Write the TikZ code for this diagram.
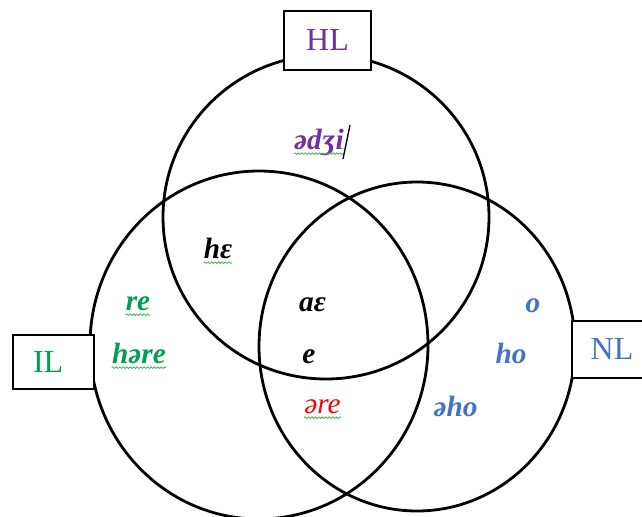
\documentclass[tikz,border=0pt]{standalone}
\usepackage{fontspec}
\setmainfont{Liberation Serif}
\usetikzlibrary{decorations.pathmorphing}
\definecolor{hlpurple}{HTML}{7030A0}
\definecolor{ilgreen}{HTML}{00A04E}
\definecolor{nlblue}{HTML}{4472C4}
\definecolor{squiggreen}{HTML}{4CAF50}
\definecolor{wordred}{HTML}{FF0000}
\begin{document}
\begin{tikzpicture}[x=0.75pt,y=-0.75pt,
  ring/.style={draw=black,line width=2.1pt},
  labelbox/.style={draw=black,line width=1.5pt,fill=white,inner sep=0pt,
    font=\fontsize{24}{28}\selectfont},
  word/.style={font=\fontsize{22}{26}\selectfont\bfseries\itshape,inner sep=0pt,anchor=base},
  squig/.style={draw=squiggreen,line width=0.6pt,decorate,
    decoration={snake,amplitude=0.6pt,segment length=2.6pt}}]
\useasboundingbox (0,0) rectangle (642,517);
\clip (0,0) rectangle (642,517);
% circles
\draw[ring] (326,217) ellipse [x radius=163, y radius=162];
\draw[ring] (259,345) ellipse [x radius=169, y radius=174];
\draw[ring] (417,346.5) ellipse [x radius=158, y radius=164.5];
% label boxes
\node[labelbox,text=hlpurple,minimum width=65.25pt,minimum height=44.25pt] (hl) at (327.5,40.5) {HL};
\node[labelbox,text=ilgreen,minimum width=60.75pt,minimum height=40.5pt] (il) at (53.5,362) {IL\hspace*{8pt}};
\node[labelbox,text=nlblue,minimum width=60pt,minimum height=42.75pt] (nl) at (612,349.5) {NL};
% words
\node[word,text=hlpurple] (w1) at (319,149) {ədʒi};
\node[word,text=black] (w2) at (218,258) {hɛ};
\node[word,text=ilgreen] (w3) at (138,310) {re};
\node[word,text=ilgreen] (w4) at (139,363) {həre};
\node[word,text=black] (w5) at (312.5,311) {aɛ};
\node[word,text=black] (w6) at (309,363) {e};
\node[word,text=wordred,font=\fontsize{22}{26}\selectfont\mdseries\itshape] (w7) at (322.5,413) {əre};
\node[word,text=nlblue] (w8) at (533,312) {o};
\node[word,text=nlblue] (w9) at (511,363) {ho};
\node[word,text=nlblue] (w10) at (455.5,416) {əho};
% spell-check squiggles
\foreach \w in {w1,w2,w3,w4,w7}{
  \draw[squig] ([yshift=-3.5pt]\w.base west) -- ([yshift=-3.5pt]\w.base east);
}
% stray slash
\coordinate (s1) at (350,125);
\coordinate (s2) at (343,159);
\draw[line width=1pt] (s1) -- (s2);
\end{tikzpicture}
\end{document}
